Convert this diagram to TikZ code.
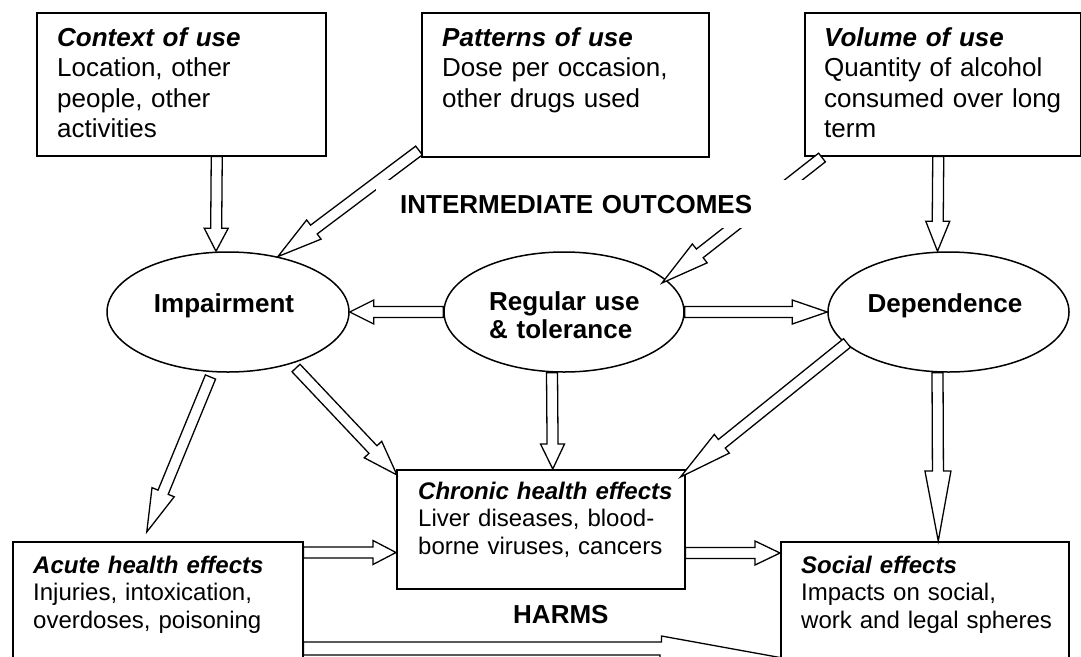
\documentclass[tikz,border=0pt]{standalone}
\usepackage{fontspec}
\setmainfont{Liberation Sans}
\usetikzlibrary{calc,shapes.geometric}
\tikzset{
  box/.style={draw=black, line width=1.5pt, rectangle, inner sep=0pt, anchor=north west},
  oval/.style={draw=black, line width=1.5pt, ellipse, inner sep=0pt},
  blk/.style={draw=black, fill=white, line width=1.3pt, line join=miter, miter limit=20},
  bigtext/.style={font=\fontsize{26}{30.5}\selectfont},
  smalltext/.style={font=\fontsize{24}{27.5}\selectfont},
  txt/.style={inner sep=0pt, anchor=base west, align=left, text width=280},
  lbl/.style={inner sep=0pt, font=\fontsize{26}{28.5}\selectfont\bfseries},
}
% block arrow: [head half width]{head length}{from}{to}
\newcommand\barrow[4][12]{%
  \path (#3) coordinate (bas) (#4) coordinate (bae);
  \pgfpointdiff{\pgfpointanchor{bas}{center}}{\pgfpointanchor{bae}{center}}%
  \pgfgetlastxy{\bax}{\bay}%
  \pgfmathsetmacro\balen{veclen(\bax,\bay)}%
  \pgfmathsetmacro\baang{atan2(\bay,\bax)}%
  \draw[blk, shift={(bas)}, rotate=\baang]
    (0pt,-5.5pt) -- ({\balen pt-#2pt},-5.5pt) -- ({\balen pt-#2pt},-#1pt) -- (\balen pt,0pt)
    -- ({\balen pt-#2pt},#1pt) -- ({\balen pt-#2pt},5.5pt) -- (0pt,5.5pt) -- cycle;
}
\begin{document}
\begin{tikzpicture}[x=1pt,y=-1pt]
\path[use as bounding box, clip] (0,0) rectangle (1081,656);
\fill[white] (0,0) rectangle (1081,656);
% boxes
\node[box, minimum width=289, minimum height=143] (ctx) at (36,12) {};
\node[box, minimum width=287, minimum height=144] (pat) at (421,12) {};
\node[box, minimum width=276, minimum height=143] (vol) at (804,12) {};
\node[box, minimum width=288, minimum height=119] (chr) at (396,469) {};
\node[box, minimum width=290, minimum height=127] (acu) at (12,541) {};
\node[box, minimum width=288, minimum height=127] (soc) at (780,541) {};
% ellipses
\node[oval, minimum width=242, minimum height=120] (imp) at (228,312) {};
\node[oval, minimum width=240, minimum height=120] (reg) at (564,312) {};
\node[oval, minimum width=241, minimum height=120] (dep) at (948.5,312) {};
% arrows
\barrow{23}{$(ctx.south)+(35.5,0)$}{$(imp.north)+(-12,0)$}
\barrow{45}{$(pat.south west)+(-2,-7)$}{imp.48}
\barrow{48}{$(vol.south west)+(18,1)$}{$(reg.center)+(98,-29)$}
\barrow{30}{$(vol.south)+(-4.5,0)$}{$(dep.north)+(-11,0)$}
\barrow{24}{reg.west}{imp.east}
\barrow{35}{reg.east}{dep.west}
\barrow{43}{$(imp.center)+(-17.5,65)$}{$(acu.north)+(-11,-9)$}
\barrow{35}{$(imp.center)+(68,56)$}{$(chr.north west)+(1,6)$}
\barrow{25}{$(reg.south)+(-12,0)$}{$(chr.north)+(12,0)$}
\barrow{53}{$(dep.center)+(-101.5,31)$}{$(chr.north east)+(-5,8)$}
\barrow[13]{70}{$(dep.south)+(-11,0)$}{$(soc.north)+(13.5,0)$}
\barrow{25}{$(chr.north east)+(0,84)$}{$(soc.north west)+(0,12)$}
\barrow{23}{$(acu.north east)+(0,11.5)$}{$(chr.north west)+(0,83.5)$}
\draw[blk] ($(acu.north east)+(0,101)$) -- ++(358,0) -- ++(0,-6)
  -- ($(soc.north west)+(0,116.5)$) -- ++(-120,7.5) -- ++(0,-10) -- ($(acu.north east)+(0,114)$) -- cycle;
% section label with white backing
\node[lbl, fill=white, anchor=base west, text height=33pt, text depth=15pt, text width=430, align=left] (mid) at (376,213) {\hspace*{24pt}INTERMEDIATE OUTCOMES};
\node[lbl, anchor=base west] (harms) at (513,623) {HARMS};
% ellipse texts
\node[lbl, anchor=base] (imp-t) at (224,312) {Impairment};
\node[lbl, anchor=base west, align=left, text width=170] (reg-t) at (489,310) {Regular use\\\& tolerance};
\node[lbl, anchor=base] (dep-t) at (945,312) {Dependence};
% box texts
\node[txt, bigtext] (ctx-t) at (57,46) {\textbf{\textit{Context of use}}\\Location, other\\people, other\\activities};
\node[txt, bigtext] (pat-t) at (442,46) {\textbf{\textit{Patterns of use}}\\Dose per occasion,\\other drugs used};
\node[txt, bigtext] (vol-t) at (824,46) {\textbf{\textit{Volume of use}}\\Quantity of alcohol\\consumed over long\\term};
\node[txt, smalltext] (chr-t) at (418,499) {\textbf{\textit{Chronic health effects}}\\Liver diseases, blood-\\borne viruses, cancers};
\node[txt, smalltext] (acu-t) at (33,573) {\textbf{\textit{Acute health effects}}\\Injuries, intoxication,\\overdoses, poisoning};
\node[txt, smalltext] (soc-t) at (801,573) {\textbf{\textit{Social effects}}\\Impacts on social,\\work and legal spheres};
\end{tikzpicture}
\end{document}
